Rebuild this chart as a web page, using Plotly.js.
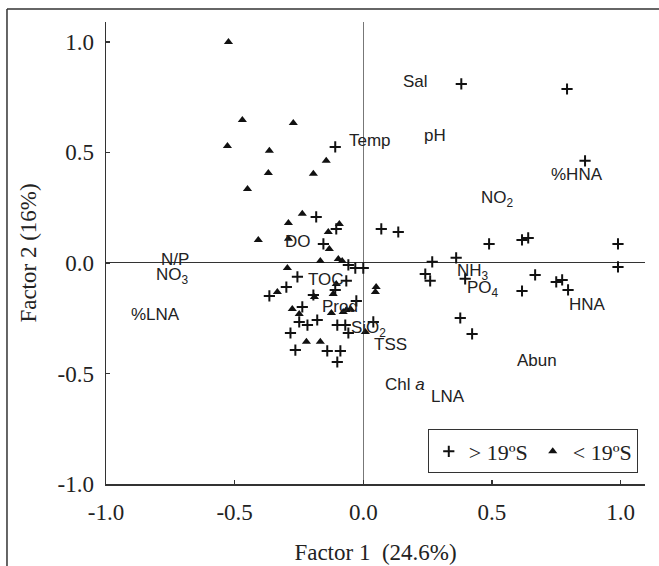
<!DOCTYPE html>
<html>
<head>
<meta charset="utf-8">
<script src="https://cdn.plot.ly/plotly-3.0.1.min.js"></script>
<style>html,body{margin:0;padding:0;background:#fff;}#chart{width:659px;height:566px;}</style>
</head>
<body>
<div id="chart"></div>
<script>
// Samples north of 19ºS (> 19ºS) : crosses
const crossX = [0.381, 0.792, 0.862, -0.109, -0.183, -0.105, -0.155, 0.070, 0.136, 0.489,
  0.617, 0.641, 0.990, 0.268, 0.361, 0.990, 0.241, 0.260, 0.396, 0.668,
  0.750, 0.773, 0.796, 0.617, 0.377, 0.423, -0.058, -0.031, 0.000, -0.256,
  -0.299, -0.365, -0.194, -0.066, -0.109, -0.027, -0.237, -0.249, -0.217, -0.179,
  -0.101, -0.070, -0.058, -0.283, -0.264, -0.140, -0.089, -0.101, 0.039];
const crossY = [0.810, 0.787, 0.462, 0.525, 0.208, 0.154, 0.086, 0.154, 0.140, 0.086,
  0.104, 0.113, 0.086, 0.005, 0.023, -0.018, -0.050, -0.081, -0.072, -0.054,
  -0.086, -0.077, -0.122, -0.127, -0.249, -0.321, -0.009, -0.023, -0.023, -0.063,
  -0.109, -0.149, -0.145, -0.081, -0.122, -0.172, -0.199, -0.267, -0.281, -0.258,
  -0.281, -0.281, -0.317, -0.317, -0.394, -0.398, -0.398, -0.448, -0.267];

// Samples south of 19ºS (< 19ºS) : triangles
const triX = [-0.524, -0.470, -0.272, -0.528, -0.365, -0.144, -0.369, -0.194, -0.450, -0.237,
  -0.291, -0.136, -0.093, -0.408, -0.291, -0.132, -0.167, -0.097, -0.082, -0.295,
  -0.334, -0.190, -0.117, -0.105, 0.050, 0.047, -0.276, -0.249, -0.124, -0.078,
  -0.066, -0.050, -0.221, -0.167, 0.008];
const triY = [1.000, 0.647, 0.633, 0.529, 0.507, 0.462, 0.407, 0.403, 0.335, 0.222,
  0.181, 0.140, 0.176, 0.104, 0.109, 0.063, 0.009, 0.018, 0.009, -0.023,
  -0.131, -0.154, -0.140, -0.095, -0.109, -0.131, -0.208, -0.231, -0.226, -0.222,
  -0.213, -0.208, -0.357, -0.357, -0.312];

// Variable labels (loadings)
const labelText = ["Sal", "pH", "Temp", "%HNA", "NO<sub>2</sub>", "DO", "N/P", "NO<sub>3</sub>", "%LNA", "TOC",
  "NH<sub>3</sub>", "PO<sub>4</sub>", "HNA", "Prod", "SiO<sub>2</sub>", "TSS", "Abun", "Chl <i>a</i>", "LNA"];
const labelX = [0.202, 0.280, 0.027, 0.831, 0.520, -0.252, -0.730, -0.742, -0.808, -0.144,
  0.427, 0.466, 0.870, -0.089, 0.019, 0.105, 0.676, 0.163, 0.330];
const labelY = [0.819, 0.575, 0.552, 0.398, 0.290, 0.095, 0.014, -0.058, -0.235, -0.077,
  -0.040, -0.117, -0.190, -0.199, -0.298, -0.367, -0.443, -0.552, -0.606];

const xTicks = [-1.0, -0.5, 0.0, 0.5, 1.0];
const yTicks = [-1.0, -0.5, 0.0, 0.5, 1.0];
const tickText = ["-1.0", "-0.5", "0.0", "0.5", "1.0"];

const serif = '"Liberation Serif", "Times New Roman", serif';
const sans = '"Liberation Sans", Arial, sans-serif';

const traces = [
  {
    type: "scatter", mode: "markers", x: crossX, y: crossY, name: "> 19ºS",
    marker: {symbol: "cross-thin", size: 8, color: "#111", line: {width: 2, color: "#111"}},
    hoverinfo: "x+y"
  },
  {
    type: "scatter", mode: "markers", x: triX, y: triY, name: "< 19ºS",
    marker: {symbol: "triangle-up", size: 8, color: "#111", line: {width: 0}},
    hoverinfo: "x+y"
  }
];

const annotations = labelText.map((t, i) => ({
  x: labelX[i], y: labelY[i], xref: "x", yref: "y", text: t, showarrow: false,
  xanchor: "center", yanchor: "middle",
  font: {family: sans, size: 17, color: "#222"}
}));

const layout = {
  width: 659, height: 566,
  margin: {l: 106, r: 14, t: 22, b: 82},
  paper_bgcolor: "#fff", plot_bgcolor: "#fff",
  showlegend: true,
  legend: {
    orientation: "h", x: 0.597, y: 0.118, xanchor: "left", yanchor: "top",
    bgcolor: "#fff", bordercolor: "#333", borderwidth: 1,
    font: {family: serif, size: 22, color: "#222"}
  },
  xaxis: {
    range: [-1.0, 1.095], tickvals: xTicks, ticktext: tickText,
    showgrid: false, zeroline: true, zerolinecolor: "#777", zerolinewidth: 1.5,
    showline: true, linecolor: "#333", linewidth: 1.5, mirror: false,
    ticks: "inside", ticklen: 4, tickwidth: 1.5, tickcolor: "#333",
    ticklabelstandoff: 7,
    tickfont: {family: serif, size: 23, color: "#222"},
    title: {text: "Factor 1\u00a0 (24.6%)", standoff: 20, font: {family: serif, size: 23, color: "#222"}}
  },
  yaxis: {
    range: [-1.0, 1.09], tickvals: yTicks, ticktext: tickText,
    showgrid: false, zeroline: true, zerolinecolor: "#333", zerolinewidth: 1,
    showline: true, linecolor: "#333", linewidth: 1.5, mirror: false,
    ticks: "inside", ticklen: 4, tickwidth: 1.5, tickcolor: "#333",
    ticklabelstandoff: 6,
    tickfont: {family: serif, size: 23, color: "#222"},
    title: {text: "Factor 2 (16%)", standoff: 14, font: {family: serif, size: 23, color: "#222"}}
  },
  annotations: annotations,
  shapes: [
    {type: "line", xref: "paper", yref: "paper", x0: -0.1837, x1: -0.1837, y0: -0.18, y1: 1.0281,
     line: {color: "#333", width: 1.5}},
    {type: "line", xref: "paper", yref: "paper", x0: -0.1837, x1: 1.03, y0: 1.0281, y1: 1.0281,
     line: {color: "#333", width: 1.5}}
  ]
};

Plotly.newPlot("chart", traces, layout, {staticPlot: true, displayModeBar: false});
</script>
</body>
</html>
